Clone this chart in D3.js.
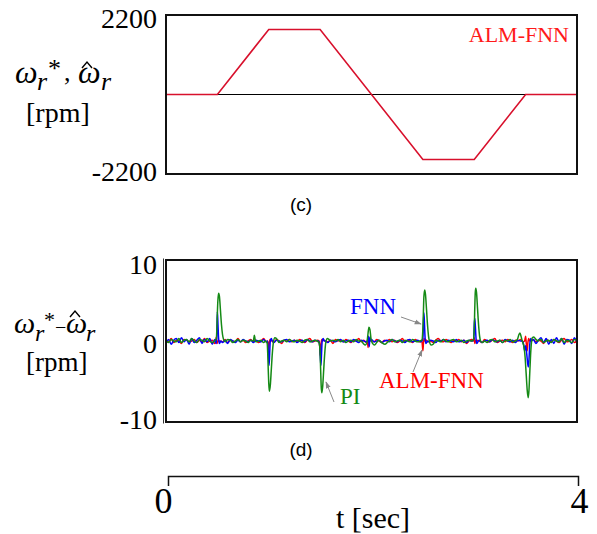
<!DOCTYPE html>
<html><head><meta charset="utf-8">
<script src="https://cdn.jsdelivr.net/npm/d3@7"></script>
<style>body{margin:0;background:#fff}svg{display:block}</style>
</head><body><svg id="c" width="597" height="534"></svg>
<script>
// ---------- DATA ----------
// (c) speed command / estimated speed trajectory
const refTimes = [0, 0.5, 1.0, 1.5, 2.5, 3.0, 3.5, 4.0];
const refSpeed = [0, 0, 1800, 1800, -1800, -1800, 0, 0];
const speedTicks = [2200, -2200];
const errTicks = [10, 0, -10];
const timeTicks = [0, 4];

// (d) speed-error traces: baseline ripple sampled every noiseStep seconds
const noiseStep = 0.025;
const piNoise = [
0.1,-0.2,0.2,0.0,-0.1,0.3,-0.2,0.1,0.2,-0.1,
0.3,0.0,-0.2,0.2,0.1,-0.1,0.3,0.0,-0.2,0.1,
0.2,-0.1,0.1,-0.3,0.2,0.1,-0.2,0.0,0.2,-0.1,
0.1,0.0,-0.2,0.1,0.2,-0.1,0.0,0.1,-0.2,0.1,
0.0,0.2,-0.1,0.1,-0.2,0.0,0.1,-0.1,0.2,0.0,
-0.1,0.1,0.0,-0.2,0.1,0.2,-0.1,0.0,0.1,-0.1,
0.2,0.0,-0.1,0.1,-0.2,0.1,0.0,0.2,-0.1,0.1,
-0.2,0.0,0.1,-0.1,0.2,0.0,-0.1,0.1,0.0,-0.2,
0.1,0.2,-0.1,0.0,0.1,-0.2,0.1,0.0,0.2,-0.1,
0.0,0.1,-0.2,0.1,0.0,-0.1,0.2,0.0,-0.1,0.1,
0.2,-0.1,0.0,0.1,-0.2,0.1,0.0,-0.1,0.2,0.0,
-0.1,0.1,0.2,-0.1,0.0,0.1,-0.2,0.0,0.1,-0.1,
0.2,0.0,-0.1,0.1,0.0,-0.2,0.1,0.2,-0.1,0.0,
0.1,-0.2,0.1,0.0,0.2,-0.1,0.1,0.0,-0.2,0.1,
0.2,-0.1,0.0,0.1,-0.3,0.1,0.2,-0.2,0.0,0.1,
-0.2,0.2,0.0,-0.1,0.3,-0.2,0.1,0.0,-0.2,0.2,
0.1];
const fnnNoise = [
-0.3,0.2,-0.4,0.1,0.3,-0.2,0.4,-0.1,0.2,-0.4,
0.3,-0.2,0.1,0.4,-0.3,0.2,-0.1,0.3,-0.4,0.2,
-0.1,0.3,-0.2,0.1,-0.3,0.2,0.0,-0.2,0.1,-0.1,
0.2,0.0,-0.1,0.1,-0.2,0.1,0.0,-0.1,0.2,-0.1,
0.1,0.0,-0.2,0.1,0.0,-0.1,0.1,0.2,-0.1,0.0,
0.1,-0.2,0.0,0.1,-0.1,0.2,0.0,-0.1,0.1,0.0,
-0.1,0.2,0.0,-0.2,0.1,0.0,-0.1,0.1,0.2,-0.1,
0.0,0.1,-0.1,0.2,0.0,-0.2,0.1,0.0,-0.1,0.1,
0.2,-0.1,0.0,0.1,-0.2,0.0,0.1,-0.1,0.2,0.0,
-0.1,0.1,0.0,-0.2,0.1,0.2,-0.1,0.0,0.1,-0.1,
0.0,0.2,-0.1,0.1,0.0,-0.2,0.1,0.0,0.2,-0.1,
0.1,0.0,-0.1,0.2,-0.1,0.0,0.1,-0.2,0.1,0.0,
0.2,-0.1,0.1,-0.2,0.0,0.1,-0.1,0.2,0.0,-0.1,
0.1,-0.2,0.2,0.0,-0.1,0.1,-0.2,0.1,0.0,0.2,
-0.2,0.3,-0.1,0.2,-0.3,0.1,0.4,-0.2,0.3,-0.4,
0.2,-0.3,0.4,-0.1,0.3,-0.4,0.2,0.1,-0.3,0.4,
-0.2];
const almNoise = [
0.2,-0.1,0.3,-0.2,0.1,0.0,-0.3,0.2,0.1,-0.1,
0.0,0.2,-0.2,0.1,-0.1,0.3,-0.2,0.0,0.1,-0.3,
0.2,0.0,-0.1,0.2,-0.2,0.1,0.0,-0.1,0.3,-0.1,
0.1,-0.2,0.0,0.2,-0.1,0.1,-0.2,0.0,0.3,-0.1,
0.0,0.1,-0.2,0.2,0.0,-0.3,0.1,0.0,0.2,-0.1,
0.1,-0.1,0.2,0.0,-0.2,0.1,0.3,-0.1,0.0,0.1,
-0.2,0.2,0.0,-0.1,0.1,-0.3,0.2,0.0,0.1,-0.1,
0.2,0.0,-0.2,0.1,0.0,0.3,-0.1,0.1,-0.2,0.0,
0.1,-0.1,0.2,0.0,-0.2,0.1,0.0,0.2,-0.1,0.1,
-0.2,0.0,0.3,-0.1,0.1,0.0,-0.2,0.2,0.0,-0.1,
0.1,0.2,-0.1,0.0,-0.2,0.1,0.3,0.0,-0.1,0.2,
0.0,-0.2,0.1,0.0,0.2,-0.1,0.1,-0.3,0.0,0.2,
-0.1,0.1,0.0,-0.2,0.2,0.0,-0.1,0.1,0.3,-0.2,
0.0,0.1,-0.1,0.2,0.0,-0.2,0.1,0.0,0.2,-0.1,
0.1,-0.2,0.0,0.2,-0.1,0.1,0.0,-0.3,0.2,0.0,
-0.1,0.2,0.0,-0.2,0.1,0.3,-0.1,0.0,0.2,-0.2,
0.1];

// transients: [time (s), error (rpm)]
const piEvents = [
 [[0.47,0],[0.49,0.3],[0.495,1.5],[0.50,3.5],[0.505,5.0],[0.512,5.9],[0.52,5.5],[0.53,3.8],[0.54,2.0],[0.55,0.8],[0.56,0.2],[0.575,-0.1],[0.59,0.1]],
 [[0.85,0],[0.86,0.7],[0.87,0]],
 [[0.97,0],[0.985,-0.3],[0.99,-1.5],[0.995,-3.5],[1.0,-5.2],[1.006,-6.2],[1.015,-5.5],[1.025,-3.5],[1.035,-1.5],[1.045,-0.2],[1.06,0.4],[1.075,0.3],[1.09,0]],
 [[1.47,0],[1.49,-0.2],[1.5,-1.5],[1.505,-3.5],[1.51,-5.5],[1.516,-6.4],[1.525,-5.6],[1.535,-3.5],[1.545,-1.5],[1.555,-0.2],[1.57,0.3],[1.585,0.2],[1.6,0]],
 [[1.90,0],[1.92,-0.3],[1.94,-0.5],[1.955,-0.2],[1.965,0.8],[1.975,1.7],[1.985,1.4],[1.995,0.3],[2.01,-0.3],[2.03,-0.5],[2.05,-0.2],[2.07,0.1],[2.1,-0.2],[2.13,-0.4],[2.16,-0.1]],
 [[2.47,0],[2.49,0.1],[2.5,1.5],[2.505,3.5],[2.51,5.5],[2.518,6.3],[2.525,5.8],[2.535,4.0],[2.545,2.0],[2.555,0.6],[2.565,-0.1],[2.58,-0.5],[2.6,-0.4],[2.62,0]],
 [[2.97,0],[2.99,0.1],[3.0,1.5],[3.005,4.0],[3.01,6.0],[3.015,6.5],[3.022,6.0],[3.032,4.0],[3.042,2.0],[3.052,0.6],[3.062,0],[3.08,-0.2],[3.1,0]],
 [[3.40,0],[3.42,0.2],[3.435,0.8],[3.445,1.0],[3.455,0.6],[3.465,0.1],[3.475,-0.3],[3.485,-0.8],[3.495,-2.0],[3.505,-4.0],[3.515,-6.0],[3.525,-7.0],[3.532,-6.2],[3.54,-4.0],[3.548,-1.8],[3.556,-0.3],[3.565,0.4],[3.58,0.5],[3.6,0.2],[3.62,0]]
];
const fnnEvents = [
 [[0.48,0],[0.49,-0.3],[0.495,1.0],[0.50,3.6],[0.506,2.0],[0.512,0.3],[0.52,-0.3],[0.535,0]],
 [[0.985,0],[0.992,-0.5],[0.998,-2.0],[1.003,-3.0],[1.009,-1.5],[1.015,0],[1.025,0.3],[1.035,0]],
 [[1.485,0],[1.495,-0.5],[1.502,-2.0],[1.508,-3.0],[1.514,-1.5],[1.52,0],[1.53,0.3],[1.54,0]],
 [[1.96,0],[1.97,0.6],[1.978,-0.7],[1.985,0.5],[1.995,0]],
 [[2.49,0],[2.5,0.3],[2.505,2.0],[2.51,3.5],[2.516,2.0],[2.522,0.3],[2.53,-0.3],[2.545,0]],
 [[2.985,0],[2.995,0.3],[3.0,2.0],[3.005,2.8],[3.012,1.5],[3.018,0.2],[3.025,-0.3],[3.04,0]],
 [[3.47,0],[3.48,-0.4],[3.49,-1.2],[3.5,-0.6],[3.51,-1.5],[3.52,-2.8],[3.527,-3.2],[3.534,-2.0],[3.54,-0.5],[3.55,0.3],[3.56,0]]
];
const almEvents = [
 [[0.485,0],[0.49,0.5],[0.497,-0.3],[0.505,0]],
 [[0.99,0],[0.995,-0.5],[1.0,-1.1],[1.005,-0.3],[1.012,0.2],[1.02,0]],
 [[1.49,0],[1.497,-0.8],[1.502,-1.8],[1.508,-0.5],[1.515,0.2],[1.525,0]],
 [[1.96,0],[1.967,-0.8],[1.973,0.2],[1.98,0]],
 [[2.49,0],[2.495,-0.5],[2.5,-1.2],[2.506,-0.2],[2.512,0.3],[2.52,0]],
 [[2.995,0],[3.0,0.4],[3.006,-0.3],[3.012,0]],
 [[3.49,0],[3.5,0.6],[3.507,-0.4],[3.515,-1.2],[3.522,-0.2],[3.53,0.3],[3.54,0]]
];
const seriesNames = ["ALM-FNN", "FNN", "PI"];
const seriesColors = ["#ff0000", "#0000ff", "#158a15"];

// ---------- DRAW ----------
const svg = d3.select("#c");
const serif = "'Liberation Serif','Times New Roman',serif";
function txt(x, y, s, o = {}) {
  const t = svg.append("text")
    .attr("transform", `translate(${x},${y}) scale(${o.sx || 1},1)`)
    .attr("font-family", o.ff || serif)
    .attr("font-size", o.size || 22)
    .attr("fill", o.fill || "#000")
    .attr("text-anchor", o.anchor || "start")
    .text(s);
  if (o.italic) t.attr("font-style", "italic");
  return t;
}
// multi-part math label as ONE text element, parts placed absolutely
function mathLabel(parts) {
  const t = svg.append("text").attr("font-family", serif).attr("fill", "#000");
  parts.forEach(p => {
    const s = t.append("tspan").attr("x", p[1]).attr("y", p[2]).attr("font-size", p[3]).text(p[0]);
    if (p[4]) s.attr("font-style", "italic");
  });
}
// circumflex accent (hat) drawn over an omega
function hat(cx, yb, w, h) {
  svg.append("path").attr("d", `M${cx - w / 2},${yb} L${cx},${yb - h} L${cx + w / 2},${yb}`)
    .attr("fill", "none").attr("stroke", "#000").attr("stroke-width", 1.4).attr("stroke-linejoin", "miter");
}

const X0 = 166, X1 = 577;
const x = d3.scaleLinear().domain([0, 4]).range([X0, X1]);
const fmt = d => String(d);

// ----- panel (c) -----
const yTop = d3.scaleLinear().domain([-2200, 2200]).range([174, 15]);
svg.append("line").attr("x1", X0).attr("x2", X1).attr("y1", yTop(0)).attr("y2", yTop(0))
  .attr("stroke", "#000").attr("stroke-width", 1);
svg.append("path")
  .datum(refTimes.map((t, i) => [t, refSpeed[i]]))
  .attr("fill", "none").attr("stroke", "#d8102c").attr("stroke-width", 1.6)
  .attr("d", d3.line().x(d => x(d[0])).y(d => yTop(d[1])));
svg.append("rect").attr("x", X0).attr("y", 15).attr("width", X1 - X0).attr("height", 159)
  .attr("fill", "none").attr("stroke", "#111").attr("stroke-width", 2);
const axC = svg.append("g").attr("transform", `translate(${X0},0)`)
  .call(d3.axisLeft(yTop).tickValues(speedTicks).tickSize(0).tickFormat(fmt));
axC.select(".domain").remove();
axC.selectAll("text").attr("font-family", serif).attr("font-size", 28).attr("fill", "#000")
  .attr("x", -9).attr("dy", null)
  .attr("y", d => d > 0 ? 27 - yTop(d) : 180 - yTop(d));
txt(569, 42, "ALM-FNN", { fill: "#ff1a1a", anchor: "end", size: 22 });
txt(301, 211, "(c)", { ff: "'Liberation Sans',Arial,sans-serif", size: 19, anchor: "middle" });

// y label (c)
mathLabel([["ω", 15, 83, 32, true], ["r", 37, 90, 26, true], ["*", 48, 77, 26], [",", 64, 81, 26],
           ["ω", 78, 83, 32, true], ["r", 101, 90, 26, true]]);
hat(87, 68, 10, 6);
txt(26, 122, "[rpm]", { size: 28 });

// ----- panel (d) -----
const yBot = d3.scaleLinear().domain([-10, 10]).range([422, 260]);
function buildSeries(noise, events) {
  const pts = [];
  noise.forEach((v, i) => {
    const t = i * noiseStep;
    if (!events.some(e => t >= e[0][0] && t <= e[e.length - 1][0])) pts.push([t, v]);
  });
  events.forEach(e => e.forEach(p => pts.push(p)));
  return pts.sort((a, b) => a[0] - b[0]);
}
const seriesData = [
  buildSeries(almNoise, almEvents),
  buildSeries(fnnNoise, fnnEvents),
  buildSeries(piNoise, piEvents)
];
svg.append("clipPath").attr("id", "clipD").append("rect")
  .attr("x", X0).attr("y", 260).attr("width", X1 - X0).attr("height", 162);
const lineD = d3.line().x(d => x(d[0])).y(d => yBot(d[1])).curve(d3.curveMonotoneX);
svg.append("g").attr("clip-path", "url(#clipD)")
  .selectAll("path").data(seriesData).join("path")
  .attr("fill", "none").attr("stroke", (d, i) => seriesColors[i])
  .attr("stroke-width", 1.5).attr("stroke-linejoin", "round")
  .attr("d", lineD);
svg.append("rect").attr("x", X0).attr("y", 260).attr("width", X1 - X0).attr("height", 162)
  .attr("fill", "none").attr("stroke", "#111").attr("stroke-width", 2);
svg.append("line").attr("x1", X0 - 2.5).attr("x2", X0 - 2.5).attr("y1", 258.5).attr("y2", 423.5)
  .attr("stroke", "#333").attr("stroke-width", 1);
const axD = svg.append("g").attr("transform", `translate(${X0},0)`)
  .call(d3.axisLeft(yBot).tickValues(errTicks).tickSize(0).tickFormat(fmt));
axD.select(".domain").remove();
axD.selectAll("text").attr("font-family", serif).attr("font-size", 28).attr("fill", "#000")
  .attr("x", -9).attr("dy", null)
  .attr("y", d => d === 10 ? 273 - yBot(d) : d === 0 ? 352 - yBot(d) : 428 - yBot(d));
txt(301, 456, "(d)", { ff: "'Liberation Sans',Arial,sans-serif", size: 19, anchor: "middle" });

// annotations
svg.append("defs").append("marker").attr("id", "arr").attr("viewBox", "0 0 10 10")
  .attr("refX", 9).attr("refY", 5).attr("markerWidth", 7).attr("markerHeight", 7)
  .attr("orient", "auto").append("path").attr("d", "M0,1.5 L10,5 L0,8.5 Z").attr("fill", "#888");
const arrows = [[401, 317, 421, 324], [413, 372, 422, 350], [334, 402, 326, 382]];
svg.selectAll("line.arr").data(arrows).join("line").attr("class", "arr")
  .attr("x1", d => d[0]).attr("y1", d => d[1]).attr("x2", d => d[2]).attr("y2", d => d[3])
  .attr("stroke", "#888").attr("stroke-width", 1).attr("marker-end", "url(#arr)");
txt(350, 314, seriesNames[1], { fill: seriesColors[1], size: 23 });
txt(379, 388, seriesNames[0], { fill: seriesColors[0], size: 23 });
txt(340, 404, seriesNames[2], { fill: seriesColors[2], size: 23 });

// y label (d)
mathLabel([["ω", 14, 333, 30, true], ["r", 35, 341, 24, true], ["*", 44, 327, 22], ["−", 55, 334, 20],
           ["ω", 66, 333, 30, true], ["r", 86, 341, 24, true]]);
hat(75, 317, 10, 6);
txt(26, 371, "[rpm]", { size: 27 });

// ----- time axis -----
const xAx = d3.scaleLinear().domain([0, 4]).range([168, 578]);
const axT = svg.append("g").attr("transform", "translate(0,476)")
  .call(d3.axisBottom(xAx).tickValues(timeTicks).tickSize(0).tickSizeOuter(10).tickFormat(fmt));
axT.select(".domain").attr("stroke", "#111").attr("stroke-width", 1.5);
axT.selectAll("text").attr("font-family", serif).attr("font-size", 36).attr("fill", "#000")
  .attr("dy", null).attr("y", 37).attr("x", d => d === 0 ? -5 : 1);
txt(373, 528, "t [sec]", { size: 30, anchor: "middle" });
</script></body></html>
